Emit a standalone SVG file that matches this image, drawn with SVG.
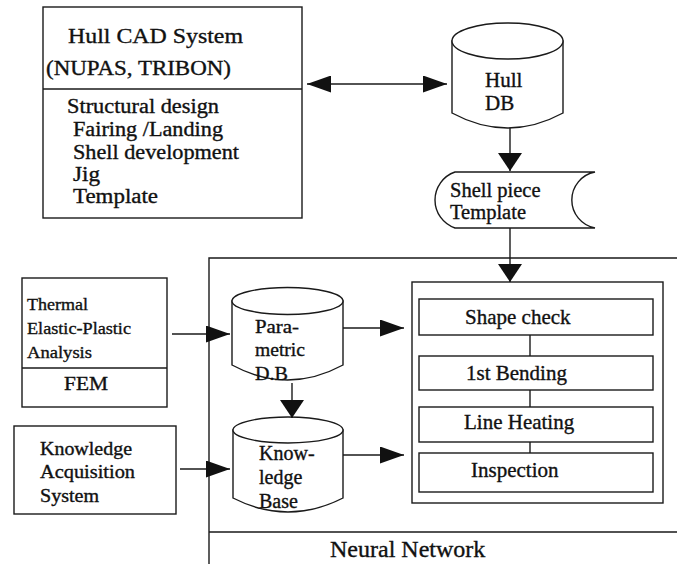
<svg xmlns="http://www.w3.org/2000/svg" width="677" height="564" viewBox="0 0 677 564">
<defs>
<style>
.box{fill:#fff;stroke:#1a1a1a;stroke-width:1.4}
.ln{fill:none;stroke:#1a1a1a;stroke-width:1.4}
.t{font-family:"Liberation Serif","Times New Roman",serif;fill:#111;stroke:#111;stroke-width:0.35}
</style>
<marker id="ah" viewBox="0 0 24 17" refX="24" refY="8.5" markerWidth="24" markerHeight="17" markerUnits="userSpaceOnUse" orient="auto-start-reverse"><path d="M0,0 L24,8.5 L0,17 Z" fill="#111"/></marker>
<marker id="av" viewBox="0 0 18 24" refX="18" refY="12" markerWidth="18" markerHeight="24" markerUnits="userSpaceOnUse" orient="auto"><path d="M0,0 L18,12 L0,24 Z" fill="#111"/></marker>
</defs>
<rect width="677" height="564" fill="#fff"/>

<g id="neural-network">
<path class="ln" d="M677,258 L209,258 L209,564 M209,532 L677,532"/>
<text class="t" x="330" y="557" font-size="24">Neural Network</text>
</g>

<g id="hull-cad">
<rect class="box" x="43" y="7" width="259" height="211"/>
<line class="ln" x1="43" y1="89" x2="302" y2="89"/>
<text class="t" x="68" y="43" font-size="22" textLength="175" lengthAdjust="spacingAndGlyphs">Hull CAD System</text>
<text class="t" x="46" y="75" font-size="20" textLength="185" lengthAdjust="spacingAndGlyphs">(NUPAS, TRIBON)</text>
<text class="t" x="67" y="113" font-size="20" textLength="152" lengthAdjust="spacingAndGlyphs">Structural design</text>
<text class="t" x="73" y="136" font-size="20" textLength="150" lengthAdjust="spacingAndGlyphs">Fairing /Landing</text>
<text class="t" x="73" y="159" font-size="20" textLength="166" lengthAdjust="spacingAndGlyphs">Shell development</text>
<text class="t" x="73" y="181" font-size="20" textLength="27" lengthAdjust="spacingAndGlyphs">Jig</text>
<text class="t" x="73" y="203" font-size="20" textLength="85" lengthAdjust="spacingAndGlyphs">Template</text>
</g>

<g id="hull-db">
<path class="box" d="M452,41 L452,113 Q507.5,143 563,113 L563,41 Z"/>
<ellipse class="box" cx="507.5" cy="41" rx="55.5" ry="18"/>
<text class="t" x="485" y="87" font-size="21">Hull</text>
<text class="t" x="485" y="110" font-size="21">DB</text>
</g>

<g id="shell-piece">
<path class="box" d="M455,172 L595,172 A28.5,28.5 0 0 0 595,228 L455,228 A29.6,29.6 0 0 1 455,172 Z"/>
<text class="t" x="450" y="197" font-size="20.5">Shell piece</text>
<text class="t" x="450" y="219" font-size="20.5">Template</text>
</g>

<g id="thermal">
<rect class="box" x="22" y="278" width="145" height="129"/>
<line class="ln" x1="22" y1="368" x2="167" y2="368"/>
<text class="t" x="27" y="310" font-size="17" textLength="61" lengthAdjust="spacingAndGlyphs">Thermal</text>
<text class="t" x="27" y="334" font-size="17" textLength="104" lengthAdjust="spacingAndGlyphs">Elastic-Plastic</text>
<text class="t" x="27" y="358" font-size="17" textLength="65" lengthAdjust="spacingAndGlyphs">Analysis</text>
<text class="t" x="64" y="390" font-size="19" textLength="44" lengthAdjust="spacingAndGlyphs">FEM</text>
</g>

<g id="knowledge-acquisition">
<rect class="box" x="14" y="426" width="162" height="88"/>
<text class="t" x="40" y="455" font-size="18" textLength="92" lengthAdjust="spacingAndGlyphs">Knowledge</text>
<text class="t" x="40" y="478" font-size="18" textLength="95" lengthAdjust="spacingAndGlyphs">Acquisition</text>
<text class="t" x="40" y="502" font-size="18" textLength="59" lengthAdjust="spacingAndGlyphs">System</text>
</g>

<g id="parametric-db">
<path class="box" d="M232,301 L232,365 Q287.5,395 343,365 L343,301 Z"/>
<ellipse class="box" cx="287.5" cy="301" rx="55.5" ry="13.5"/>
<text class="t" x="255" y="333" font-size="19" textLength="44" lengthAdjust="spacingAndGlyphs">Para-</text>
<text class="t" x="255" y="356" font-size="19" textLength="50" lengthAdjust="spacingAndGlyphs">metric</text>
<text class="t" x="255" y="380" font-size="19" textLength="33" lengthAdjust="spacingAndGlyphs">D.B</text>
</g>

<g id="knowledge-base">
<path class="box" d="M233,430 L233,498 Q288,526 343,498 L343,430 Z"/>
<ellipse class="box" cx="288" cy="430" rx="55" ry="13"/>
<text class="t" x="259" y="460" font-size="20">Know-</text>
<text class="t" x="259" y="484" font-size="20">ledge</text>
<text class="t" x="259" y="508" font-size="20">Base</text>
</g>

<g id="process">
<rect class="box" x="412" y="282" width="251" height="221"/>
<g id="shape-check"><rect class="box" x="419" y="299" width="234" height="36"/><text class="t" x="465" y="324" font-size="21">Shape check</text></g>
<g id="first-bending"><rect class="box" x="419" y="356" width="234" height="34"/><text class="t" x="466" y="380" font-size="21">1st Bending</text></g>
<g id="line-heating"><rect class="box" x="419" y="407" width="234" height="35"/><text class="t" x="464" y="429" font-size="21">Line Heating</text></g>
<g id="inspection"><rect class="box" x="419" y="453" width="234" height="39"/><text class="t" x="471" y="477" font-size="21">Inspection</text></g>
</g>

<g id="connectors">
<line class="ln" x1="307" y1="84" x2="447" y2="84" marker-start="url(#ah)" marker-end="url(#ah)"/>
<line class="ln" x1="510" y1="128" x2="510" y2="171" marker-end="url(#av)"/>
<line class="ln" x1="510" y1="228" x2="510" y2="282" marker-end="url(#av)"/>
<line class="ln" x1="172" y1="334" x2="230" y2="334" marker-end="url(#ah)"/>
<line class="ln" x1="180" y1="469" x2="230" y2="469" marker-end="url(#ah)"/>
<line class="ln" x1="292" y1="383" x2="292" y2="418" marker-end="url(#av)"/>
<line class="ln" x1="343" y1="328" x2="404" y2="328" marker-end="url(#ah)"/>
<line class="ln" x1="343" y1="455" x2="404" y2="455" marker-end="url(#ah)"/>
<line class="ln" x1="530" y1="335" x2="530" y2="356"/>
<line class="ln" x1="530" y1="390" x2="530" y2="407"/>
<line class="ln" x1="530" y1="442" x2="530" y2="453"/>
</g>
</svg>
